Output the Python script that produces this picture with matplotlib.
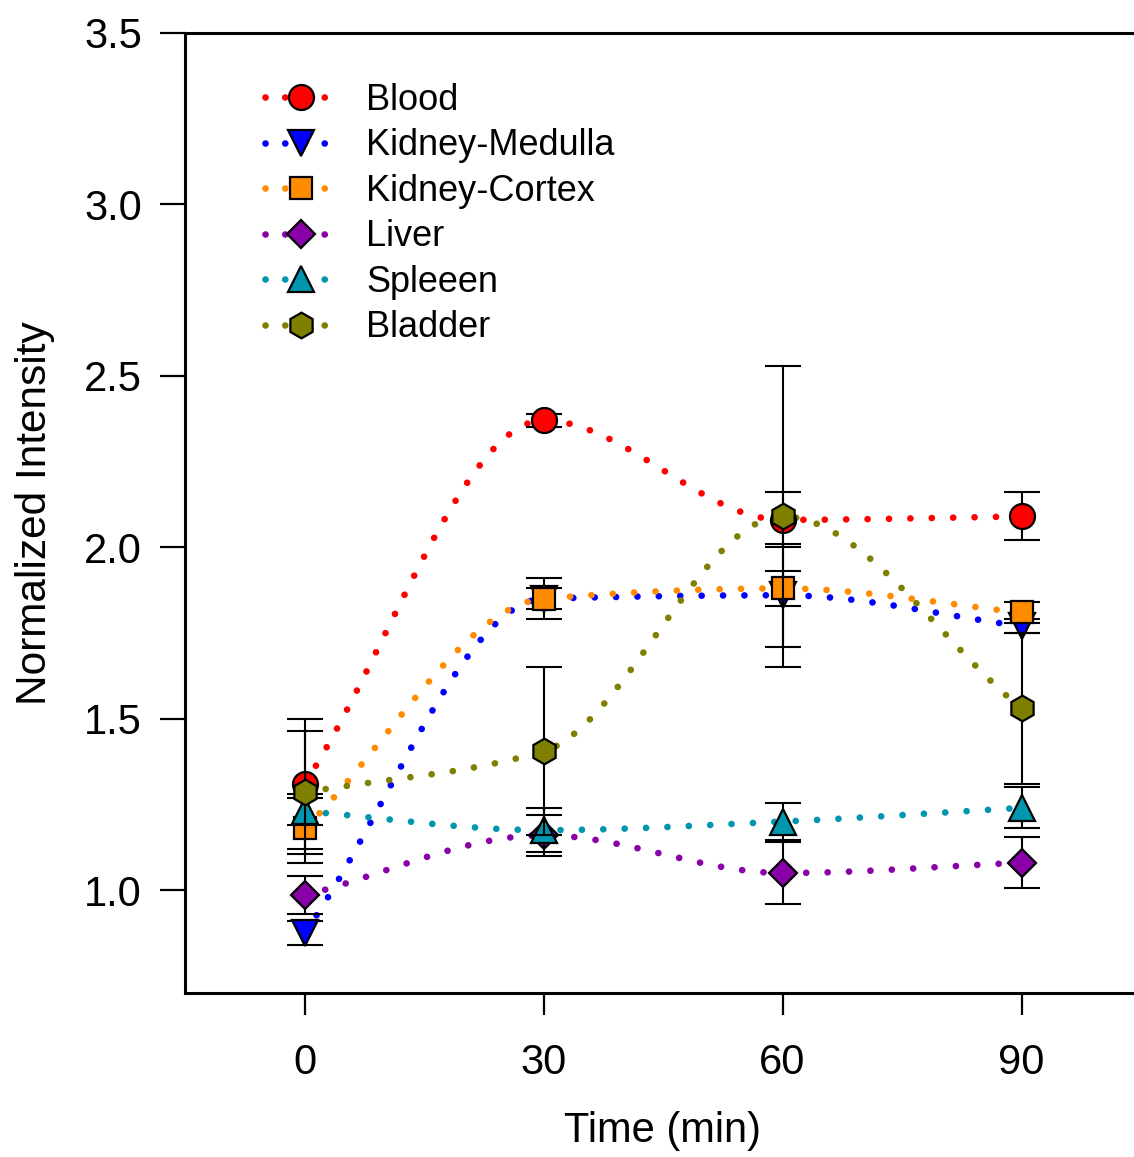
import numpy as np
import matplotlib
matplotlib.use("Agg")
import matplotlib.pyplot as plt

plt.rcParams['font.family'] = ['Liberation Sans', 'DejaVu Sans']

time_min = [0, 30, 60, 90]
series_names = ["Blood", "Kidney-Medulla", "Kidney-Cortex", "Liver", "Spleeen", "Bladder"]

blood = [1.31, 2.37, 2.08, 2.09]
blood_err = [0.19, 0.02, 0.08, 0.07]
medulla = [0.875, 1.85, 1.86, 1.77]
medulla_err = [0.035, 0.03, 0.15, 0.02]
cortex = [1.18, 1.85, 1.88, 1.81]
cortex_err = [0.10, 0.06, 0.05, 0.03]
liver = [0.985, 1.16, 1.05, 1.08]
liver_err = [0.055, 0.06, 0.09, 0.075]
spleen = [1.23, 1.175, 1.20, 1.24]
spleen_err = [0.04, 0.065, 0.055, 0.06]
bladder = [1.285, 1.405, 2.09, 1.53]
bladder_err = [0.18, 0.245, 0.44, 0.22]

values = [blood, medulla, cortex, liver, spleen, bladder]
errors = [blood_err, medulla_err, cortex_err, liver_err, spleen_err, bladder_err]
colors = ["#FF0000", "#0000FF", "#FF8C00", "#8A00A8", "#0097AE", "#808000"]
markers = ["o", "v", "s", "D", "^", "h"]
msizes = [18, 19, 15.5, 14.5, 19, 18.5]

y_ticks = [1.0, 1.5, 2.0, 2.5, 3.0, 3.5]


def smooth_curve(x, y, n=300):
    """Monotone cubic (Hermite) curve through the data points."""
    x = np.asarray(x, float)
    y = np.asarray(y, float)
    h = np.diff(x)
    delta = np.diff(y) / h
    k = len(x)
    d = np.zeros(k)
    for i in range(1, k - 1):
        if delta[i - 1] * delta[i] > 0:
            w1 = 2 * h[i] + h[i - 1]
            w2 = h[i] + 2 * h[i - 1]
            d[i] = (w1 + w2) / (w1 / delta[i - 1] + w2 / delta[i])
        else:
            d[i] = 0.0
    d[0] = delta[0]
    d[-1] = delta[-1]
    xs = np.linspace(x[0], x[-1], n)
    ys = np.empty_like(xs)
    for j, xv in enumerate(xs):
        i = min(np.searchsorted(x, xv, side='right') - 1, k - 2)
        t = (xv - x[i]) / h[i]
        h00 = 2 * t ** 3 - 3 * t ** 2 + 1
        h10 = t ** 3 - 2 * t ** 2 + t
        h01 = -2 * t ** 3 + 3 * t ** 2
        h11 = t ** 3 - t ** 2
        ys[j] = h00 * y[i] + h10 * h[i] * d[i] + h01 * y[i + 1] + h11 * h[i] * d[i + 1]
    return xs, ys


fig = plt.figure(figsize=(11.34, 11.57), dpi=100)
ax = fig.add_axes([185 / 1134, 1 - 993 / 1157, (1141 - 185) / 1134, (993 - 33) / 1157])

LW = 4.8
dot_style = (0, (0.01, 3.2))
for vals, col in zip(values, colors):
    xs, ys = smooth_curve(time_min, vals)
    ax.plot(xs, ys, color=col, lw=LW, linestyle=dot_style, dash_capstyle='round', zorder=2)

handles = []
for i, (vals, errs, col, mk, ms, name) in enumerate(zip(values, errors, colors, markers, msizes, series_names)):
    ax.errorbar(time_min, vals, yerr=errs, fmt='none', ecolor='black', elinewidth=1.5,
                capsize=13, capthick=1.5, zorder=3 + 2 * i)
    ax.plot(time_min, vals, linestyle='none', marker=mk, markersize=ms, markerfacecolor=col,
            markeredgecolor='black', markeredgewidth=1.6, zorder=4 + 2 * i)
    h, = ax.plot([], [], color=col, lw=LW, linestyle=(0, (0.01, 2.95)), dash_capstyle='round',
                 marker=mk, markersize=ms, markerfacecolor=col, markeredgecolor='black',
                 markeredgewidth=1.6)
    handles.append(h)

ax.set_xlim(-15, 105)
ax.set_ylim(0.7, 3.5)
ax.set_xticks(time_min)
ax.set_yticks(y_ticks)
ax.set_yticklabels([f"{v:.1f}" for v in y_ticks])
ax.tick_params(axis='both', direction='out', width=1.6, labelsize=30)
ax.tick_params(axis='x', length=16, pad=20)
ax.tick_params(axis='y', length=18, pad=13)
for s in ['left', 'bottom', 'top', 'right']:
    ax.spines[s].set_linewidth(2.2)

ax.set_xlabel("Time (min)", fontsize=30, labelpad=20.5)
ax.set_ylabel("Normalized Intensity", fontsize=30.5, labelpad=21)

leg = ax.legend(handles, series_names, loc='upper left', bbox_to_anchor=(0.05, 0.982),
                frameon=False, fontsize=26, handlelength=2.0, handletextpad=0.8,
                labelspacing=0.29, markerscale=1.0)

fig.savefig("out.png", dpi=100)
